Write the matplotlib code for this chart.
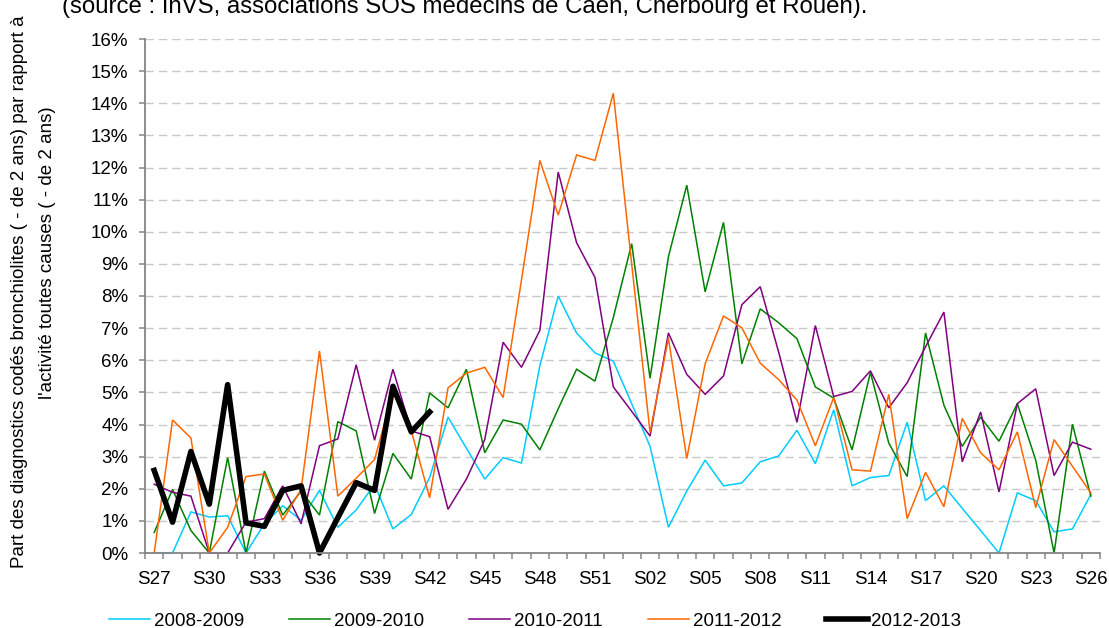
import matplotlib
matplotlib.use("Agg")
import matplotlib.pyplot as plt
import numpy as np

plt.rcParams['font.family'] = ['Liberation Sans', 'DejaVu Sans']

# Semaines S27 ... S52, S01 ... S26
weeks = ["S%02d" % w for w in list(range(27, 53)) + list(range(1, 27))]

s2008_2009 = [0, 0, 1.28, 1.12, 1.16, 0, 0.91, 1.47, 1.02, 1.95, 0.8, 1.34, 2.14, 0.75, 1.2, 2.35,
              4.23, 3.26, 2.3, 2.97, 2.8, 5.83, 8.0, 6.85, 6.23, 5.97, 4.65, 3.32, 0.8, 1.93, 2.89,
              2.09, 2.18, 2.84, 3.02, 3.82, 2.78, 4.46, 2.09, 2.35, 2.41, 4.07, 1.63, 2.09, 1.39,
              0.7, 0, 1.87, 1.63, 0.66, 0.75, 1.82]
s2009_2010 = [0.64, 1.98, 0.7, 0, 2.97, 0, 2.55, 1.18, 1.93, 1.18, 4.09, 3.8, 1.23, 3.1, 2.3, 4.98,
              4.52, 5.72, 3.12, 4.14, 4.01, 3.21, 4.49, 5.72, 5.35, 7.33, 9.63, 5.44, 9.22, 11.45,
              8.13, 10.29, 5.89, 7.6, 7.17, 6.67, 5.17, 4.82, 3.21, 5.62, 3.42, 2.38, 6.85, 4.6,
              3.32, 4.23, 3.48, 4.65, 2.89, 0, 4.01, 1.77]
s2010_2011 = [2.14, 1.89, 1.77, 0, 0, 0.96, 1.07, 2.09, 0.91, 3.34, 3.55, 5.86, 3.51, 5.72, 3.8, 3.62,
              1.36, 2.3, 3.53, 6.56, 5.78, 6.93, 11.86, 9.66, 8.58, 5.17, 4.41, 3.64, 6.85, 5.56,
              4.94, 5.51, 7.73, 8.29, 6.26, 4.07, 7.08, 4.87, 5.03, 5.67, 4.52, 5.3, 6.42, 7.5,
              2.84, 4.39, 1.9, 4.65, 5.11, 2.41, 3.45, 3.23]
s2011_2012 = [0, 4.14, 3.58, 0, 0.8, 2.38, 2.46, 1.02, 1.98, 6.29, 1.77, 2.33, 2.91, 5.0, 3.8, 1.72,
              5.14, 5.6, 5.78, 4.84, 8.5, 12.22, 10.52, 12.39, 12.22, 14.31, 9.0, 3.75, 6.69, 2.94,
              5.89, 7.38, 7.01, 5.91, 5.4, 4.76, 3.34, 4.84, 2.59, 2.55, 4.94, 1.07, 2.51, 1.44,
              4.19, 3.12, 2.59, 3.77, 1.41, 3.53, 2.7, 1.87]
s2012_2013 = [2.57, 0.96, 3.16, 1.52, 5.24, 0.94, 0.83, 1.95, 2.09, 0, 1.1, 2.19, 1.95, 5.19, 3.77, 4.39]

series = [
    ("2008-2009", s2008_2009, "#00CCFF", 1.1),
    ("2009-2010", s2009_2010, "#008000", 1.1),
    ("2010-2011", s2010_2011, "#800080", 1.1),
    ("2011-2012", s2011_2012, "#FF6600", 1.1),
    ("2012-2013", s2012_2013, "#000000", 4.0),
]

fig = plt.figure(figsize=(11.09, 6.28), dpi=100)
ax = fig.add_axes([145 / 1109, 75 / 628, 955 / 1109, 514 / 628])

for name, vals, col, lw in series:
    ax.plot(range(len(vals)), vals, color=col, lw=lw, label=name, clip_on=False,
            solid_joinstyle='miter' if lw < 2 else 'round')

ax.set_xlim(-0.5, len(weeks) - 0.5)
ax.set_ylim(0, 16)

# axes, ticks, grid
ax.set_yticks(range(0, 17))
ax.set_yticklabels(["%d%%" % v for v in range(0, 17)], fontsize=13.5)
ax.set_xticks(range(0, len(weeks), 3))
ax.set_xticklabels(weeks[::3], fontsize=13.5)
ax.set_xticks(np.arange(-0.5, len(weeks)), minor=True)
ax.tick_params(axis='x', which='major', length=0, pad=13)
ax.tick_params(axis='x', which='minor', length=4, width=1.1, color="#868686", direction='out')
ax.tick_params(axis='y', length=4, width=1.1, color="#868686", direction='out', pad=8)
ax.yaxis.grid(True, color="#C8C8C8", lw=1.0, linestyle=(0, (6, 3.6)))
ax.set_axisbelow(True)
for side in ["top", "right"]:
    ax.spines[side].set_visible(False)
for side in ["left", "bottom"]:
    ax.spines[side].set_color("#868686")
    ax.spines[side].set_linewidth(1.3)

# titre d'axe sur deux lignes
fig.text(20 / 1109, (628 - 292) / 628,
         "Part des diagnostics codés bronchiolites ( - de 2 ans) par rapport à",
         rotation=90, ha='center', va='center', fontsize=13.5)
fig.text(47 / 1109, (628 - 253) / 628,
         "l'activité toutes causes ( - de 2 ans)",
         rotation=90, ha='center', va='center', fontsize=13.5)

# ligne de source, coupée en haut comme dans l'original
fig.text(62 / 1109, (628 - 13) / 628,
         "(source : InVS, associations SOS médecins de Caen, Cherbourg et Rouen).",
         ha='left', va='baseline', fontsize=17.3)

fig.legend(loc='center', bbox_to_anchor=(535 / 1109, 7 / 628), ncol=5, frameon=False,
           fontsize=13.5, handlelength=2.2, handletextpad=0.2, columnspacing=2.4)

fig.savefig("out.png", dpi=100)
